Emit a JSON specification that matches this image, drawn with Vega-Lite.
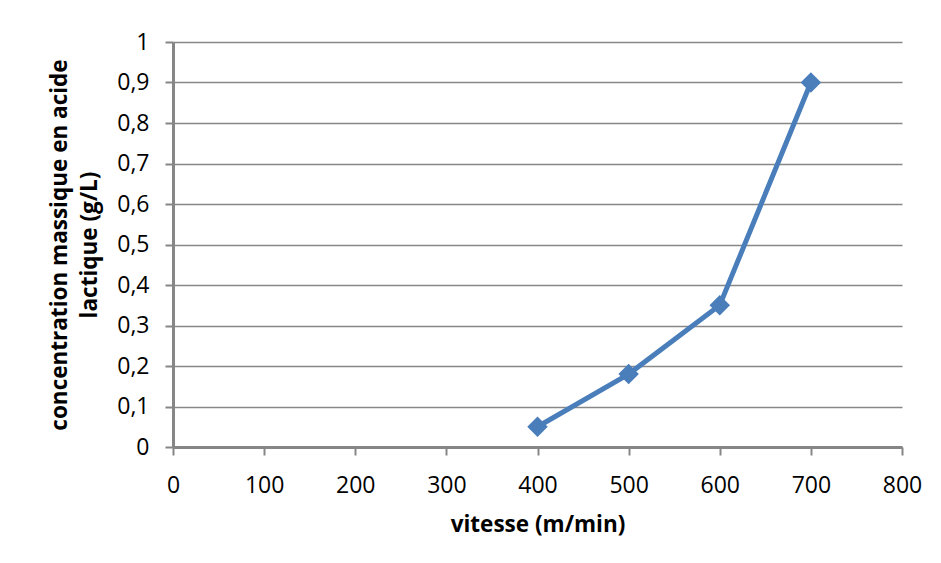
{
  "$schema": "https://vega.github.io/schema/vega-lite/v6.json",
  "width": 729,
  "height": 405,
  "autosize": {"type": "none"},
  "padding": {"left": 173, "top": 42, "right": 39, "bottom": 116},
  "background": "white",
  "config": {
    "view": {"stroke": null},
    "font": "Open Sans",
    "axis": {
      "labelFont": "Open Sans",
      "titleFont": "Open Sans",
      "labelColor": "#000000",
      "titleColor": "#000000",
      "domainColor": "#868686",
      "domainWidth": 3,
      "tickColor": "#868686",
      "tickWidth": 2,
      "gridColor": "#878787",
      "gridWidth": 1.7,
      "titleFontWeight": "bold"
    }
  },
  "data": {
    "values": [
      {"vitesse": 400, "concentration": 0.05},
      {"vitesse": 500, "concentration": 0.18},
      {"vitesse": 600, "concentration": 0.35},
      {"vitesse": 700, "concentration": 0.9}
    ]
  },
  "mark": {
    "type": "line",
    "color": "#4a7ebb",
    "strokeWidth": 5,
    "point": {"shape": "diamond", "size": 420, "color": "#4a7ebb", "filled": true, "opacity": 1}
  },
  "encoding": {
    "x": {
      "field": "vitesse",
      "type": "quantitative",
      "scale": {"domain": [0, 800], "nice": false, "zero": true},
      "axis": {
        "title": "vitesse (m/min)",
        "values": [0, 100, 200, 300, 400, 500, 600, 700, 800],
        "grid": false,
        "tickSize": 8,
        "labelFontSize": 23,
        "titleFontSize": 22.5,
        "labelPadding": 19,
        "titlePadding": 16,
        "labelFlush": false
      }
    },
    "y": {
      "field": "concentration",
      "type": "quantitative",
      "scale": {"domain": [0, 1], "nice": false},
      "axis": {
        "title": ["concentration massique en acide", "lactique (g/L)"],
        "titleLineHeight": 30,
        "labelFontSize": 23,
        "titleFontSize": 22.5,
        "values": [0, 0.1, 0.2, 0.3, 0.4, 0.5, 0.6, 0.7, 0.8, 0.9, 1],
        "labelExpr": "replace(format(datum.value, '.1~f'), '.', ',')",
        "grid": true,
        "tickSize": 8,
        "labelPadding": 16,
        "titlePadding": 15,
        "labelFlush": false
      }
    }
  }
}
